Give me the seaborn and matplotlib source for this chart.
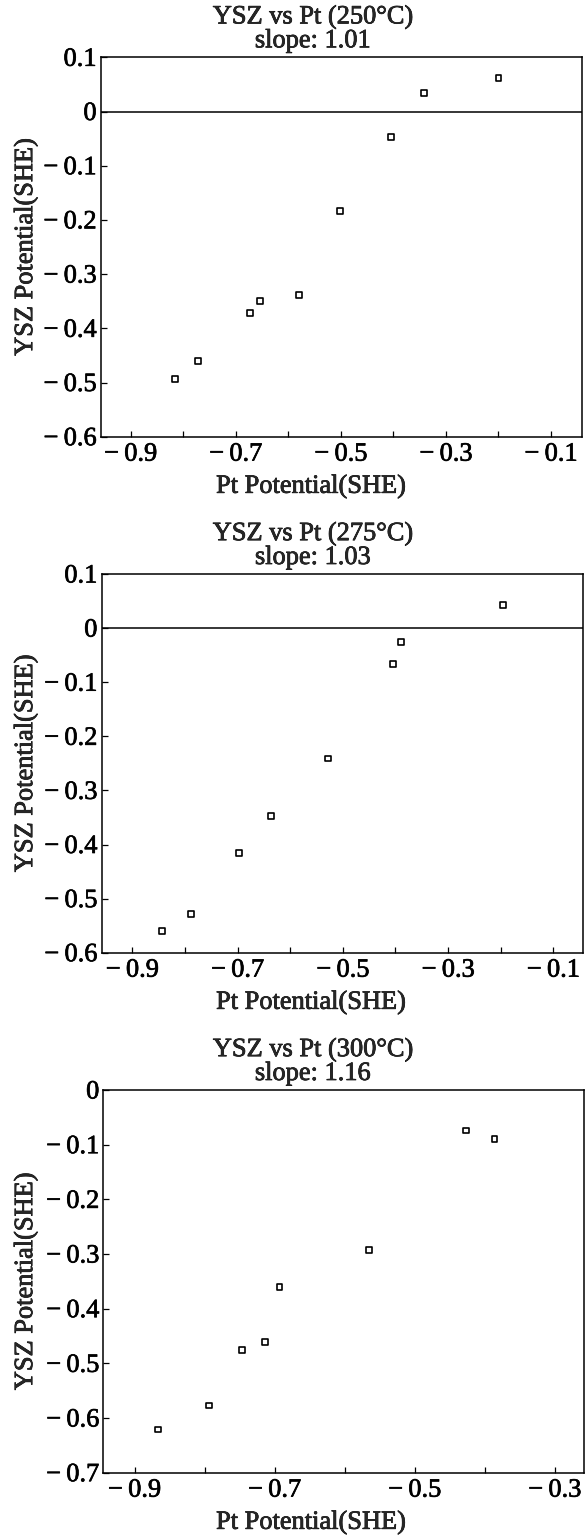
import numpy as np
import pandas as pd
import matplotlib
matplotlib.use('Agg')
import matplotlib.pyplot as plt
import matplotlib.patheffects as pe
import seaborn as sns

# data (Pt potential vs YSZ potential, SHE)
temps = ['250', '275', '300']
slopes = ['1.01', '1.03', '1.16']

pt_250 = [-0.816, -0.771, -0.673, -0.653, -0.579, -0.501, -0.404, -0.342, -0.200]
ysz_250 = [-0.494, -0.460, -0.371, -0.349, -0.338, -0.184, -0.047, 0.034, 0.061]

pt_275 = [-0.844, -0.788, -0.698, -0.636, -0.529, -0.404, -0.389, -0.195]
ysz_275 = [-0.560, -0.528, -0.416, -0.347, -0.241, -0.066, -0.026, 0.042]

pt_300 = [-0.866, -0.794, -0.746, -0.714, -0.693, -0.565, -0.427, -0.386]
ysz_300 = [-0.621, -0.577, -0.476, -0.461, -0.360, -0.293, -0.074, -0.090]

M = '\u2212\u2009'  # minus sign followed by a thin space, as in the print
xticks_a = [-0.9, -0.8, -0.7, -0.6, -0.5, -0.4, -0.3, -0.2, -0.1]
xlabels_a = [M + '0.9', '', M + '0.7', '', M + '0.5', '', M + '0.3', '', M + '0.1']
xticks_b = [-0.9, -0.8, -0.7, -0.6, -0.5, -0.4, -0.3]
xlabels_b = [M + '0.9', '', M + '0.7', '', M + '0.5', '', M + '0.3']

yticks_a = [0.1, 0, -0.1, -0.2, -0.3, -0.4, -0.5, -0.6]
ylabels_a = ['0.1', '0', M + '0.1', M + '0.2', M + '0.3', M + '0.4', M + '0.5', M + '0.6']
yticks_b = [0, -0.1, -0.2, -0.3, -0.4, -0.5, -0.6, -0.7]
ylabels_b = ['0', M + '0.1', M + '0.2', M + '0.3', M + '0.4', M + '0.5', M + '0.6', M + '0.7']

sns.set_style('ticks')
plt.rcParams['font.family'] = ['Liberation Serif', 'DejaVu Serif']
plt.rcParams['font.size'] = 19

W, H = 586, 1539
fig = plt.figure(figsize=(W / 100, H / 100), dpi=100)

# axes boxes in pixels: left, right, top, bottom
boxes = [(100.7, 581.5, 57.3, 436.7),
         (101.5, 582.7, 574.0, 952.7),
         (103.4, 583.8, 1090.0, 1472.7)]
xlims = [(-0.957, -0.042), (-0.9586, -0.0443), (-0.9445, -0.2585)]
ylims = [(-0.6, 0.1), (-0.6, 0.1), (-0.7, 0.0)]

panels = [(pt_250, ysz_250, xticks_a, xlabels_a, yticks_a, ylabels_a),
          (pt_275, ysz_275, xticks_a, xlabels_a, yticks_a, ylabels_a),
          (pt_300, ysz_300, xticks_b, xlabels_b, yticks_b, ylabels_b)]

for i, (xs, ys, xt, xl, yt, yl) in enumerate(panels):
    l, r, t, b = boxes[i]
    ax = fig.add_axes([l / W, 1 - b / H, (r - l) / W, (b - t) / H])
    df = pd.DataFrame({'pt': xs, 'ysz': ys})
    sns.scatterplot(data=df, x='pt', y='ysz', ax=ax, marker='s', s=18,
                    facecolor='none', edgecolor='black', linewidth=1.2)
    if ylims[i][1] > 0:
        ax.axhline(0, color='black', lw=1.1)
    ax.set_xlim(*xlims[i])
    ax.set_ylim(*ylims[i])
    ax.set_xticks(xt, labels=xl)
    ax.set_yticks(yt, labels=yl)
    ax.tick_params(direction='in', length=4, width=0.9, colors='black', labelsize=19)
    ax.tick_params(axis='x', pad=5)
    ax.tick_params(axis='y', pad=3)
    for sp in ax.spines.values():
        sp.set_linewidth(1.1)
        sp.set_color('black')
    ax.set_xlabel('Pt Potential(SHE)', fontsize=19)
    ax.set_ylabel('YSZ Potential(SHE)', fontsize=19)
    ax.yaxis.set_label_coords((26 - l) / (r - l), 0.5)
    ax.xaxis.set_label_coords((311 - l) / (r - l), -(50 / (b - t)))
    ax.xaxis.label.set_va('center')
    ax.yaxis.label.set_va('center')
    tx = (313 - l) / (r - l)
    ax.text(tx, 1 + 40 / (b - t), 'YSZ vs Pt (' + temps[i] + '\u00b0C)',
            transform=ax.transAxes, ha='center', va='center', fontsize=19)
    ax.text(tx, 1 + 16 / (b - t), 'slope: ' + slopes[i],
            transform=ax.transAxes, ha='center', va='center', fontsize=19)

# the printed figure has heavy type, thicken the glyphs a little
for txt in fig.findobj(matplotlib.text.Text):
    txt.set_path_effects([pe.withStroke(linewidth=0.5, foreground='black')])

fig.savefig('out.png', dpi=100)
